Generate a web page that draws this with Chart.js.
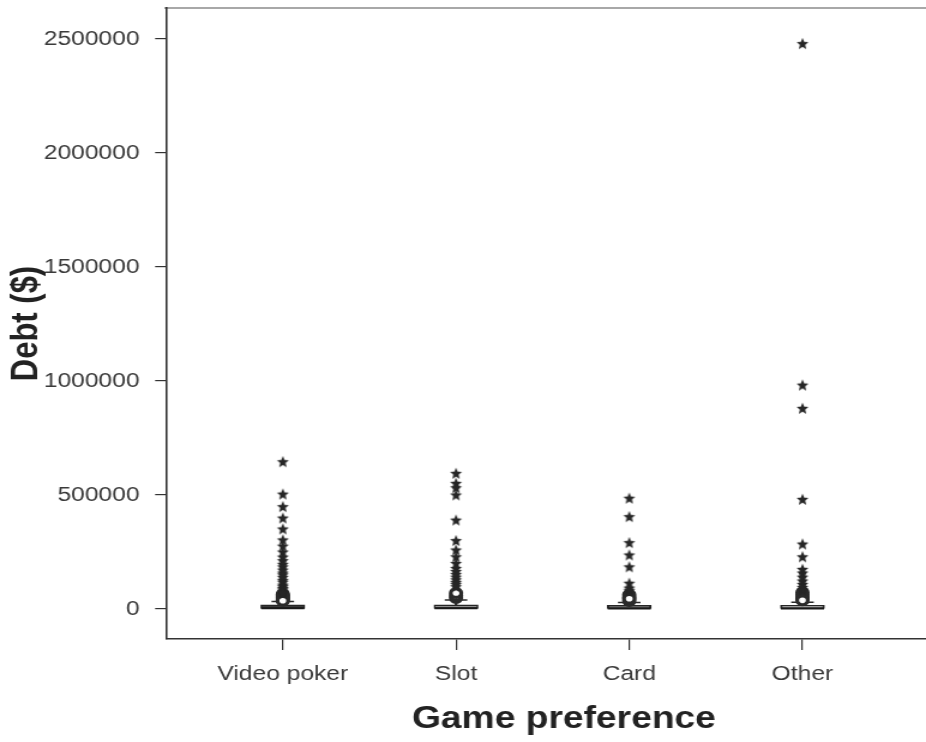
<!DOCTYPE html>
<html>
<head>
<meta charset="utf-8">
<title>Debt by game preference</title>
<script src="https://cdn.jsdelivr.net/npm/chart.js@4/dist/chart.umd.min.js"></script>
<style>
  html, body { margin: 0; padding: 0; background: #fff; overflow: hidden; width: 926px; height: 742px; }
  /* the plot is laid out on a narrower canvas and widened to the page;
     its right end runs past the page edge */
  #wrap { width: 802px; height: 742px; transform: scaleX(1.19948); transform-origin: 0 0; }
  canvas { display: block; }
</style>
</head>
<body>
<div id="wrap"><canvas id="c" width="802" height="742"></canvas></div>
<script>
// ---- data -------------------------------------------------------------
const categories = ['Video poker', 'Slot', 'Card', 'Other'];
const yTickValues = [0, 500000, 1000000, 1500000, 2000000, 2500000];

// box plot summaries, one entry per game preference
const q1 = [0, 0, 0, 0];
const medians = [3000, 3000, 2500, 2000];
const q3 = [18000, 18000, 16000, 16000];
const upperWhisker = [33000, 40000, 28000, 30000];

// outliers (open circles)
const outliersVideoPoker = [65000, 59000, 53000, 47000, 41000, 36000];
const outliersSlot = [48000, 58000, 70000];
const outliersCard = [35000, 62000, 52000, 45000];
const outliersOther = [72000, 62000, 52000, 46000, 38000];

// extreme values (stars)
const extremesVideoPoker = [646000, 504000, 449000, 399000, 351000, 303000, 276000, 250000, 228000,
  212000, 196000, 185000, 171000, 158000, 150000, 139000, 126000, 118000, 105000, 98000, 90000,
  84000, 76000, 70000];
const extremesSlot = [595000, 551000, 532000, 500000, 390000, 300000, 259000, 229000, 200000,
  178000, 165000, 152000, 140000, 128000, 117000, 108000, 98000];
const extremesCard = [486000, 405000, 291000, 237000, 185000, 113000, 92000, 82000];
const extremesOther = [2480000, 982000, 880000, 481000, 285000, 229000, 174000, 158000, 140000,
  123000, 108000, 95000, 84000];

// ---- helpers ------------------------------------------------------------
const outlierGroups = [outliersVideoPoker, outliersSlot, outliersCard, outliersOther];
const extremeGroups = [extremesVideoPoker, extremesSlot, extremesCard, extremesOther];
const STRETCH = 926 / 772;
const FONT = "'Liberation Sans', Arial, Helvetica, sans-serif";
const X_MIN = -0.675;
const X_MAX = 3.921;

function pointsFrom(groups) {
  const out = [];
  groups.forEach((vals, i) => vals.forEach(v => out.push({ x: i, y: v })));
  return out;
}
const perCategory = values => values.map((v, i) => ({ x: i, y: v }));
const rangePerCategory = (lo, hi) => lo.map((v, i) => ({ x: i, y: [v, hi[i]] }));

// no extra label overhang around the plot area
function noOverhang(s) {
  s.paddingTop = 0; s.paddingBottom = 0; s.paddingLeft = 0; s.paddingRight = 0;
}

// filled five-point star marker (pre-narrowed so it looks regular once widened)
function makeStar() {
  const w = 12, h = 13;
  const cv = document.createElement('canvas');
  cv.width = w; cv.height = h;
  const g = cv.getContext('2d');
  g.fillStyle = '#262626';
  g.beginPath();
  const cx = w / 2, cy = h / 2 + 0.5, R = 6.3, r = 2.8, sx = 1 / STRETCH;
  for (let k = 0; k < 10; k++) {
    const a = -Math.PI / 2 + k * Math.PI / 5;
    const rad = (k % 2) ? r : R;
    const px = cx + Math.cos(a) * rad * sx, py = cy + Math.sin(a) * rad;
    if (k === 0) g.moveTo(px, py); else g.lineTo(px, py);
  }
  g.closePath();
  g.fill();
  return cv;
}
const starMarker = makeStar();

// ---- chart --------------------------------------------------------------
new Chart(document.getElementById('c'), {
  type: 'scatter',
  data: {
    datasets: [
      {
        label: 'Extremes',
        type: 'scatter',
        data: pointsFrom(extremeGroups),
        pointStyle: starMarker,
        pointRadius: 6,
        order: 0
      },
      {
        label: 'Outliers',
        type: 'scatter',
        data: pointsFrom(outlierGroups),
        pointStyle: 'circle',
        pointRadius: 4.4,
        borderWidth: 3.2,
        borderColor: '#2b2b2b',
        backgroundColor: '#ffffff',
        order: 1
      },
      {
        label: 'Whisker cap',
        type: 'scatter',
        data: perCategory(upperWhisker),
        pointStyle: 'line',
        pointRadius: 9.4,
        borderWidth: 1.5,
        borderColor: '#2b2b2b',
        order: 2
      },
      {
        label: 'Median',
        type: 'scatter',
        data: perCategory(medians),
        pointStyle: 'line',
        pointRadius: 18,
        borderWidth: 2,
        borderColor: '#1a1a1a',
        order: 3
      },
      {
        label: 'Whisker',
        type: 'bar',
        data: rangePerCategory(q3, upperWhisker),
        backgroundColor: '#2b2b2b',
        borderWidth: 0,
        barThickness: 1.6,
        grouped: false,
        order: 4
      },
      {
        label: 'Box',
        type: 'bar',
        data: rangePerCategory(q1, q3),
        backgroundColor: ['#3a3a3a', '#8f8f8f', '#363636', '#a8a8a8'],
        borderColor: '#262626',
        borderWidth: 1.5,
        borderSkipped: false,
        barThickness: 36.7,
        grouped: false,
        order: 5
      }
    ]
  },
  options: {
    responsive: false,
    animation: false,
    events: [],
    layout: { autoPadding: false, padding: { top: 8, left: 0, right: 0, bottom: 0 } },
    plugins: { legend: { display: false }, tooltip: { enabled: false } },
    scales: {
      x: {
        type: 'linear',
        position: 'bottom',
        min: X_MIN,
        max: X_MAX,
        offset: false,
        afterBuildTicks: s => { s.ticks = categories.map((_, i) => ({ value: i })); },
        afterFit: s => { s.height = 103; noOverhang(s); },
        grid: { offset: false, drawOnChartArea: false, drawTicks: true, tickLength: 11, color: '#333333', lineWidth: 1.2 },
        border: { display: true, color: '#333333', width: 1.6 },
        ticks: {
          callback: v => categories[Math.round(v)],
          autoSkip: false,
          maxRotation: 0,
          padding: 12,
          color: '#3a3a3a',
          font: { family: FONT, size: 20.5 }
        },
        title: {
          display: true,
          text: 'Game preference',
          color: '#222222',
          font: { family: FONT, size: 31, weight: 'bold' },
          padding: { top: 0, bottom: 4 }
        }
      },
      x2: {
        type: 'linear',
        axis: 'x',
        position: 'top',
        min: X_MIN,
        max: X_MAX,
        display: true,
        afterFit: s => { s.height = 0; noOverhang(s); },
        grid: { display: false, drawTicks: false },
        ticks: { display: false },
        border: { display: true, color: '#a8a8a8', width: 2 }
      },
      y: {
        type: 'linear',
        position: 'left',
        min: -131600,
        max: 2636000,
        afterBuildTicks: s => { s.ticks = yTickValues.map(v => ({ value: v })); },
        afterFit: s => { s.width = 138.3; noOverhang(s); },
        grid: { drawOnChartArea: false, drawTicks: true, tickLength: 9, color: '#333333', lineWidth: 1.2 },
        border: { display: true, color: '#333333', width: 1.6 },
        ticks: {
          callback: v => String(v),
          padding: 13,
          color: '#3a3a3a',
          font: { family: FONT, size: 20.5 }
        },
        title: {
          display: true,
          text: 'Debt ($)',
          color: '#222222',
          font: { family: FONT, size: 31, weight: 'bold' },
          padding: { top: 4, bottom: 0 }
        }
      }
    }
  }
});
</script>
</body>
</html>
